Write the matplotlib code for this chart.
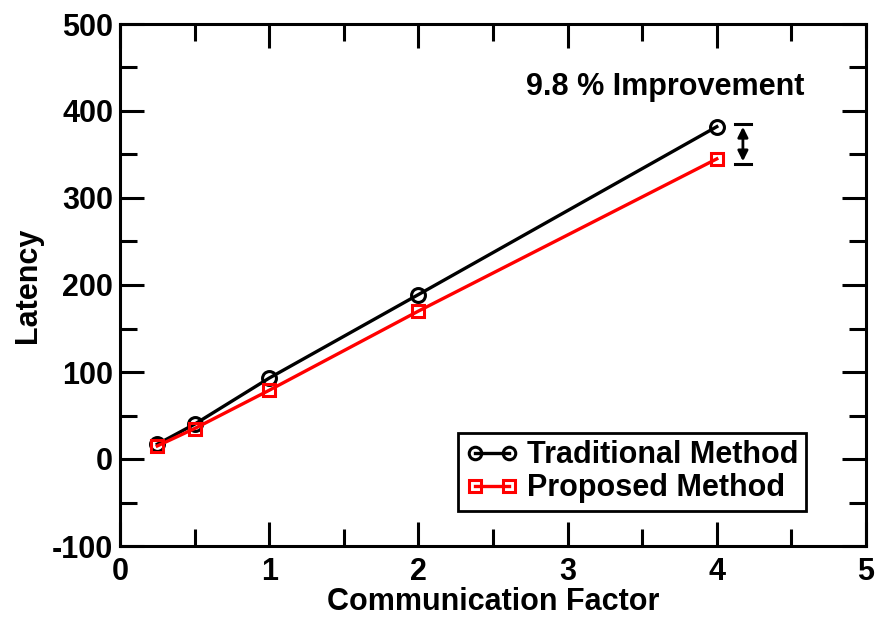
import matplotlib.pyplot as plt
from matplotlib.ticker import MultipleLocator

plt.rcParams['font.family'] = ['Liberation Sans', 'DejaVu Sans']
plt.rcParams['font.weight'] = 'bold'
plt.rcParams['axes.unicode_minus'] = False

factor = [0.25, 0.5, 1, 2, 4]
traditional = [17, 40, 93, 189, 382]
proposed = [15, 35, 79, 170, 345]

fig = plt.figure(figsize=(8.79, 6.18), dpi=100)
ax = fig.add_axes([120 / 879, 72 / 618, 746 / 879, 522 / 618])

ax.plot(factor, traditional, color='black', lw=2.4, marker='o', ms=10,
        mfc='none', mew=2.2, label='Traditional Method')
ax.plot(factor, proposed, color='red', lw=2.4, marker='s', ms=9,
        mfc='none', mew=2.2, label='Proposed Method')

ax.set_xlim(0, 5)
ax.set_ylim(-100, 500)
ax.xaxis.set_major_locator(MultipleLocator(1))
ax.xaxis.set_minor_locator(MultipleLocator(0.5))
ax.yaxis.set_major_locator(MultipleLocator(100))
ax.yaxis.set_minor_locator(MultipleLocator(50))
ax.tick_params(which='both', direction='in', top=True, right=True, width=2.2,
               labelsize=22, pad=5)
ax.tick_params(axis='x', which='major', pad=8)
ax.tick_params(which='major', length=17)
ax.tick_params(which='minor', length=12)
for s in ax.spines.values():
    s.set_linewidth(2.2)

ax.set_xlabel('Communication Factor', fontsize=22, fontweight='bold', labelpad=0)
ax.set_ylabel('Latency', fontsize=22, fontweight='bold', labelpad=6)

# improvement arrow
ax.annotate('', xy=(4.175, 339), xytext=(4.175, 385),
            arrowprops=dict(arrowstyle='<|-|>', color='black', lw=2, mutation_scale=15))
ax.plot([4.12, 4.23], [385, 385], color='black', lw=2.2)
ax.plot([4.12, 4.23], [339, 339], color='black', lw=2.2)
ax.text(4.585, 428, '9.8 % Improvement', fontsize=22, fontweight='bold',
        ha='right', va='center')

leg = ax.legend(loc='lower right', fontsize=22, numpoints=2, handlelength=1.7,
                handletextpad=0.3, borderpad=0.25, borderaxespad=0,
                labelspacing=0.1, fancybox=False, framealpha=1,
                edgecolor='black', markerscale=0.9)
leg.get_frame().set_linewidth(2)
leg.set_bbox_to_anchor((806 / 879, 107 / 618), transform=fig.transFigure)

fig.savefig('out.png', dpi=100)
